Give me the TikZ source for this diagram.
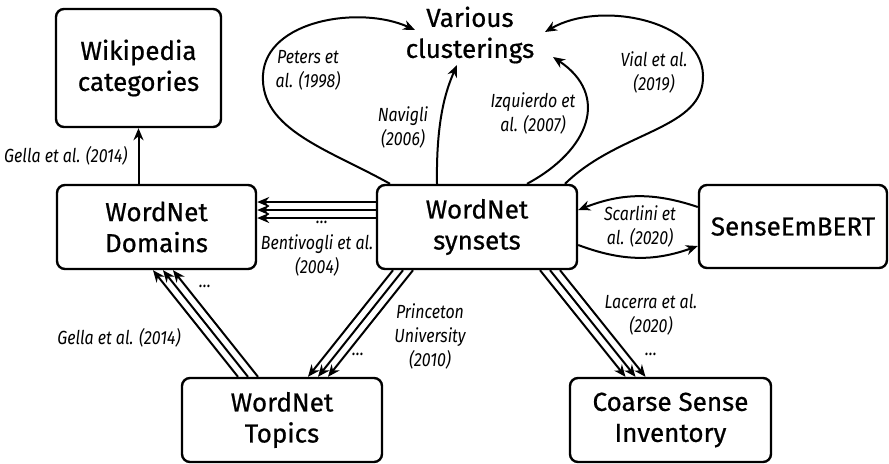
\documentclass[tikz,border=0pt]{standalone}
\usepackage{fontspec}
\setmainfont{Fira Sans}
\newfontfamily\boxfont[FakeBold=0.7]{Fira Sans}
\newfontfamily\citefont[FakeStretch=0.84]{Fira Sans}
\usetikzlibrary{arrows.meta}

\tikzset{
  box/.style={draw, line width=1.2pt, rounded corners=4pt, align=center,
    font=\boxfont\fontsize{13}{15.5}\selectfont},
  cite/.style={align=center, inner sep=1pt,
    font=\citefont\itshape\fontsize{9.5}{12}\selectfont},
  link/.style={-{Stealth[length=6pt,width=5pt]}, line width=1pt},
}

\begin{document}
\begin{tikzpicture}[x=0.5pt, y=-0.5pt]
  \useasboundingbox (0,0) rectangle (889,463);

  % resources
  \node[box, minimum width=82.5pt, minimum height=59pt] (wiki) at (138.5,68) {Wikipedia\\categories};
  \node[box, minimum width=99.5pt, minimum height=42pt] (dom) at (156.5,227) {WordNet\\Domains};
  \node[box, minimum width=100pt, minimum height=42pt] (syn) at (477,227) {WordNet\\synsets};
  \node[box, minimum width=94pt, minimum height=41.5pt] (emb) at (793,226.5) {SenseEmBERT};
  \node[box, minimum width=100pt, minimum height=42pt] (top) at (282,420) {WordNet\\Topics};
  \node[box, minimum width=100.5pt, minimum height=42pt] (csi) at (670.5,420) {Coarse Sense\\Inventory};
  \node[align=center, font=\boxfont\fontsize{13}{15.5}\selectfont] (clus) at (470,35) {Various\\clusterings};

  % mappings
  \draw[link] (dom.north -| wiki.south) -- (wiki.south) node[cite, midway, left=4pt] (gella1) {Gella et al. (2014)};

  \foreach \dy in {-25,-17,-9}
    \draw[link] ([shift={(0,\dy)}]syn.west) -- ([shift={(0,\dy)}]dom.east);
  \node[cite] (dots1) at (322,222) {\dots};
  \node[cite] (bent) at (317,255) {Bentivogli et al.\\(2004)};

  \foreach \dx/\ex in {-44/-3.5, -34/6.5, -24/16.5}
    \draw[link] ([shift={(\dx,0)}]top.north) -- ([shift={(\ex,0)}]dom.south);
  \node[cite] (dots2) at (205,286) {\dots};
  \node[cite] (gella2) at (119,338) {Gella et al. (2014)};

  \foreach \dx/\ex in {-84/26, -74/36, -64/46}
    \draw[link] ([shift={(\dx,0)}]syn.south) -- ([shift={(\ex,0)}]top.north);
  \node[cite] (dots3) at (358,354) {\dots};
  \node[cite] (princ) at (430,336) {Princeton\\University\\(2010)};

  \foreach \dx/\ex in {63/-45, 73/-35, 83/-25}
    \draw[link] ([shift={(\dx,0)}]syn.south) -- ([shift={(\ex,0)}]csi.north);
  \node[cite] (lac) at (651,315) {Lacerra et al.\\(2020)};
  \node[cite] (dots4) at (651,354) {\dots};

  \draw[link] ([shift={(0,-19.5)}]emb.west) to[bend right=20] ([shift={(0,-17)}]syn.east);
  \draw[link] ([shift={(0,18)}]syn.east) to[bend right=20] ([shift={(0,19.5)}]emb.west);
  \node[cite] (scar) at (640,226) {Scarlini et\\al. (2020)};

  % clusterings
  \draw[link] ([shift={(-87,0)}]syn.north) .. controls (330,150) and (260,130) .. (263,75)
    .. controls (266,20) and (360,5) .. ([shift={(-55,-5)}]clus.center);
  \draw[link] ([shift={(-40,0)}]syn.north) .. controls (436,120) and (446,90) .. ([shift={(-13,30)}]clus.center);
  \draw[link] ([shift={(50,0)}]syn.north) .. controls (590,150) and (610,95) .. ([shift={(83,22)}]clus.center);
  \draw[link] ([shift={(88,0)}]syn.north) .. controls (620,130) and (705,130) .. (703,75)
    .. controls (701,20) and (600,0) .. ([shift={(75,-3)}]clus.center);
  \node[cite] (peters) at (308,70) {Peters et\\al. (1998)};
  \node[cite] (navigli) at (403,127) {Navigli\\(2006)};
  \node[cite] (izq) at (533,113) {Izquierdo et\\al. (2007)};
  \node[cite] (vial) at (654,72) {Vial et al.\\(2019)};
\end{tikzpicture}
\end{document}
